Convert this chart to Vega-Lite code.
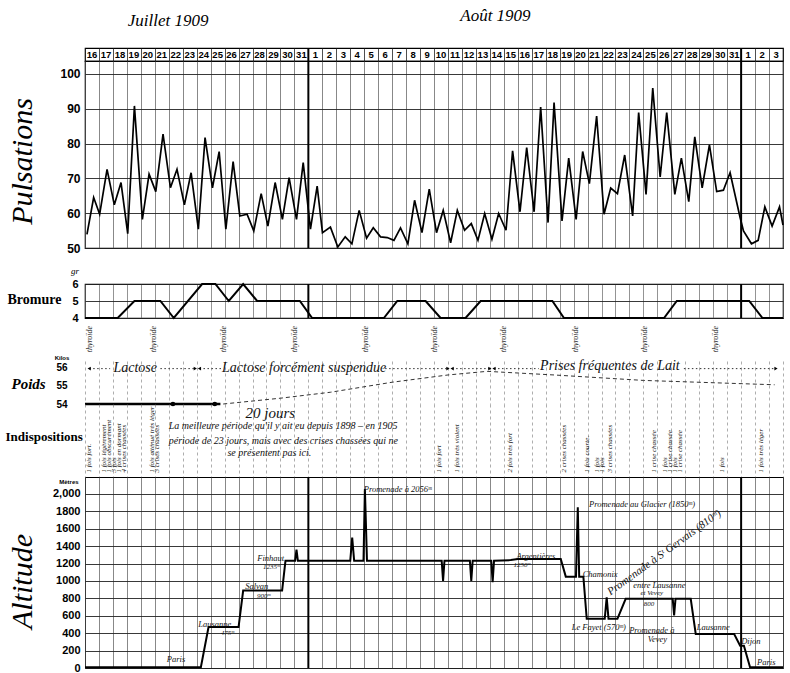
{
"$schema": "https://vega.github.io/schema/vega-lite/v6.json",
"padding": {"left": 5, "top": 6, "right": 2, "bottom": 4},
"background": "white",
"bounds": "flush",
"spacing": 0,
"config": {"view": {"stroke": null}, "axis": {"labelColor": "black", "titleColor": "black", "labelOverlap": false}},
"vconcat": [
{
 "width": 698, "height": 13,
 "view": {"stroke": "black", "strokeWidth": 1.2},
 "layer": [
  {"data": {"values": [
   {"t":0,"label":"16"},{"t":1,"label":"17"},{"t":2,"label":"18"},{"t":3,"label":"19"},{"t":4,"label":"20"},{"t":5,"label":"21"},{"t":6,"label":"22"},{"t":7,"label":"23"},{"t":8,"label":"24"},{"t":9,"label":"25"},{"t":10,"label":"26"},{"t":11,"label":"27"},{"t":12,"label":"28"},{"t":13,"label":"29"},{"t":14,"label":"30"},{"t":15,"label":"31"},
   {"t":16,"label":"1"},{"t":17,"label":"2"},{"t":18,"label":"3"},{"t":19,"label":"4"},{"t":20,"label":"5"},{"t":21,"label":"6"},{"t":22,"label":"7"},{"t":23,"label":"8"},{"t":24,"label":"9"},{"t":25,"label":"10"},{"t":26,"label":"11"},{"t":27,"label":"12"},{"t":28,"label":"13"},{"t":29,"label":"14"},{"t":30,"label":"15"},{"t":31,"label":"16"},{"t":32,"label":"17"},{"t":33,"label":"18"},{"t":34,"label":"19"},{"t":35,"label":"20"},{"t":36,"label":"21"},{"t":37,"label":"22"},{"t":38,"label":"23"},{"t":39,"label":"24"},{"t":40,"label":"25"},{"t":41,"label":"26"},{"t":42,"label":"27"},{"t":43,"label":"28"},{"t":44,"label":"29"},{"t":45,"label":"30"},{"t":46,"label":"31"},
   {"t":47,"label":"1"},{"t":48,"label":"2"},{"t":49,"label":"3"}]},
   "mark": {"type": "text", "dx": 7, "font": "Liberation Sans", "fontSize": 9.5, "fontWeight": "bold", "color": "black", "baseline": "middle"},
   "encoding": {
    "x": {"field": "t", "type": "quantitative", "scale": {"domain": [0, 50], "nice": false, "zero": false},
          "axis": {"orient": "bottom", "values": [0,1,2,3,4,5,6,7,8,9,10,11,12,13,14,15,16,17,18,19,20,21,22,23,24,25,26,27,28,29,30,31,32,33,34,35,36,37,38,39,40,41,42,43,44,45,46,47,48,49,50], "tickCount": 100, "grid": true, "gridColor": "#222", "gridWidth": 0.8, "labels": false, "ticks": false, "domain": false, "title": null}},
    "y": {"datum": 0.5, "type": "quantitative", "scale": {"domain": [0, 1], "nice": false, "zero": false}, "axis": null},
    "text": {"field": "label"}
   }},
  {"data": {"values": [{"t": 5.95, "y": 3.1, "label": "Juillet 1909"}, {"t": 29.4, "y": 3.45, "label": "Août 1909"}]},
   "mark": {"type": "text", "font": "Liberation Serif", "fontStyle": "italic", "fontSize": 17, "color": "black", "baseline": "middle"},
   "encoding": {"x": {"field": "t", "type": "quantitative"}, "y": {"field": "y", "type": "quantitative"}, "text": {"field": "label"}}},
  {"data": {"values": [{"t": 16}, {"t": 47}]},
   "mark": {"type": "rule", "color": "black", "strokeWidth": 2},
   "encoding": {"x": {"field": "t", "type": "quantitative"}}}
 ]
},
{
 "width": 698, "height": 187,
 "view": {"stroke": "black", "strokeWidth": 1.2},
 "layer": [
  {"data": {"values": [
   {"t":0.14,"v":53.9},{"t":0.62,"v":64.5},{"t":1.05,"v":59.7},{"t":1.58,"v":72.6},{"t":2.10,"v":62.4},{"t":2.58,"v":68.8},{"t":3.06,"v":54.1},{"t":3.54,"v":90.8},{"t":4.11,"v":58.2},{"t":4.59,"v":71.2},{"t":5.07,"v":66.2},{"t":5.59,"v":82.7},{"t":6.12,"v":67.3},{"t":6.59,"v":72.6},{"t":7.12,"v":62.4},{"t":7.60,"v":71.6},{"t":8.12,"v":55.4},{"t":8.60,"v":81.7},{"t":9.13,"v":67.3},{"t":9.61,"v":77.7},{"t":10.09,"v":55.4},{"t":10.61,"v":74.8},{"t":11.09,"v":59.2},{"t":11.61,"v":59.7},{"t":12.09,"v":54.9},{"t":12.62,"v":65.6},{"t":13.10,"v":56.3},{"t":13.62,"v":68.8},{"t":14.14,"v":58.2},{"t":14.62,"v":70.2},{"t":15.15,"v":58.2},{"t":15.63,"v":74.5},
   {"t":16.15,"v":55.4},{"t":16.63,"v":67.8},{"t":17.01,"v":54.4},{"t":17.58,"v":56.0},{"t":18.11,"v":50.3},{"t":18.64,"v":53.2},{"t":19.12,"v":51.2},{"t":19.64,"v":60.8},{"t":20.17,"v":52.8},{"t":20.65,"v":55.8},{"t":21.17,"v":53.2},{"t":21.65,"v":53.0},{"t":22.13,"v":52.2},{"t":22.60,"v":55.8},{"t":23.13,"v":51.2},{"t":23.61,"v":63.7},{"t":24.14,"v":54.4},{"t":24.66,"v":66.9},{"t":25.18,"v":54.4},{"t":25.66,"v":60.8},{"t":26.19,"v":51.5},{"t":26.67,"v":60.8},{"t":27.19,"v":55.1},{"t":27.67,"v":57.0},{"t":28.15,"v":52.2},{"t":28.63,"v":59.9},{"t":29.15,"v":52.5},{"t":29.63,"v":59.9},{"t":30.16,"v":55.1},
   {"t":30.63,"v":77.9},{"t":31.16,"v":60.4},{"t":31.64,"v":78.8},{"t":32.17,"v":60.4},{"t":32.64,"v":90.5},{"t":33.17,"v":57.3},{"t":33.60,"v":91.8},{"t":34.17,"v":57.8},{"t":34.65,"v":75.8},{"t":35.18,"v":58.2},{"t":35.65,"v":77.7},{"t":36.13,"v":68.5},{"t":36.65,"v":87.9},{"t":37.18,"v":59.7},{"t":37.66,"v":67.2},{"t":38.14,"v":65.6},{"t":38.66,"v":76.7},{"t":39.23,"v":59.2},{"t":39.66,"v":88.9},{"t":40.19,"v":65.4},{"t":40.67,"v":95.9},{"t":41.20,"v":70.4},{"t":41.67,"v":88.9},{"t":42.25,"v":65.4},{"t":42.72,"v":75.8},{"t":43.25,"v":63.3},{"t":43.68,"v":81.9},{"t":44.21,"v":67.3},{"t":44.73,"v":79.6},{"t":45.25,"v":66.2},{"t":45.73,"v":66.6},{"t":46.21,"v":71.6},{"t":46.93,"v":58.7},
   {"t":47.17,"v":54.9},{"t":47.74,"v":51.2},{"t":48.22,"v":52.2},{"t":48.70,"v":61.8},{"t":49.22,"v":56.3},{"t":49.75,"v":61.8},{"t":50.0,"v":56.6}]},
   "mark": {"type": "line", "color": "black", "strokeWidth": 1.7},
   "encoding": {
    "x": {"field": "t", "type": "quantitative", "scale": {"domain": [0, 50], "nice": false, "zero": false},
          "axis": {"orient": "bottom", "values": [0,1,2,3,4,5,6,7,8,9,10,11,12,13,14,15,16,17,18,19,20,21,22,23,24,25,26,27,28,29,30,31,32,33,34,35,36,37,38,39,40,41,42,43,44,45,46,47,48,49,50], "tickCount": 100, "grid": true, "gridColor": "#555", "gridWidth": 0.7, "labels": false, "ticks": false, "domain": false, "title": null}},
    "y": {"field": "v", "type": "quantitative", "scale": {"domain": [50, 103.7], "nice": false, "zero": false},
          "axis": {"values": [50, 60, 70, 80, 90, 100], "tickCount": 100, "labelExpr": "'' + datum.value", "grid": true, "gridColor": "#222", "gridWidth": 0.9, "ticks": false, "domain": false,
                   "labelFont": "Liberation Sans", "labelFontSize": 12, "labelFontWeight": "bold", "labelPadding": 5,
                   "title": "Pulsations", "titleAngle": -90, "titleX": -63, "titleY": 100, "titleAlign": "center", "titleBaseline": "middle",
                   "titleFont": "Liberation Serif", "titleFontStyle": "italic", "titleFontWeight": "normal", "titleFontSize": 30}}
   }},
  {"data": {"values": [{"t": 16}, {"t": 47}]},
   "mark": {"type": "rule", "color": "black", "strokeWidth": 2},
   "encoding": {"x": {"field": "t", "type": "quantitative"}}}
 ]
},
{
 "width": 698, "height": 36,
 "data": {"values": [{"t": -0.72, "y": 0.37, "label": "gr"}]},
 "mark": {"type": "text", "font": "Liberation Serif", "fontStyle": "italic", "fontSize": 9, "color": "black"},
 "encoding": {
  "x": {"field": "t", "type": "quantitative", "scale": {"domain": [0, 50], "nice": false, "zero": false}, "axis": null},
  "y": {"field": "y", "type": "quantitative", "scale": {"domain": [0, 1], "nice": false, "zero": false}, "axis": null},
  "text": {"field": "label"}
 }
},
{
 "width": 698, "height": 34,
 "view": {"stroke": "black", "strokeWidth": 1.2},
 "layer": [
  {"data": {"values": [
   {"t":0,"b":4},{"t":2.34,"b":4},{"t":3.54,"b":5},{"t":5.40,"b":5},{"t":6.36,"b":4},{"t":8.39,"b":6},{"t":9.34,"b":6},{"t":10.30,"b":5},{"t":11.33,"b":6},{"t":12.33,"b":5},{"t":15.39,"b":5},{"t":16.27,"b":4},{"t":21.41,"b":4},{"t":22.37,"b":5},{"t":24.40,"b":5},{"t":25.47,"b":4},{"t":27.26,"b":4},{"t":28.34,"b":5},{"t":33.48,"b":5},{"t":34.31,"b":4},{"t":41.48,"b":4},{"t":42.39,"b":5},{"t":47.58,"b":5},{"t":48.53,"b":4},{"t":50,"b":4}]},
   "mark": {"type": "line", "color": "black", "strokeWidth": 2},
   "encoding": {
    "x": {"field": "t", "type": "quantitative", "scale": {"domain": [0, 50], "nice": false, "zero": false},
          "axis": {"orient": "bottom", "values": [0,1,2,3,4,5,6,7,8,9,10,11,12,13,14,15,16,17,18,19,20,21,22,23,24,25,26,27,28,29,30,31,32,33,34,35,36,37,38,39,40,41,42,43,44,45,46,47,48,49,50], "tickCount": 100, "grid": true, "gridColor": "#666", "gridWidth": 0.7, "labels": false, "ticks": false, "domain": false, "title": null}},
    "y": {"field": "b", "type": "quantitative", "scale": {"domain": [4, 6], "nice": false, "zero": false},
          "axis": {"values": [4, 5, 6], "tickCount": 10, "labelExpr": "'' + datum.value", "grid": true, "gridColor": "#222", "gridWidth": 0.9, "ticks": false, "domain": false,
                   "labelFont": "Liberation Sans", "labelFontSize": 11, "labelFontWeight": "bold", "labelPadding": 7,
                   "title": "Bromure", "titleAngle": 0, "titleX": -78, "titleY": 15, "titleAlign": "left", "titleBaseline": "middle",
                   "titleFont": "Liberation Serif", "titleFontWeight": "bold", "titleFontSize": 14}}
   }},
  {"data": {"values": [{"t": 16}, {"t": 47}]},
   "mark": {"type": "rule", "color": "black", "strokeWidth": 2},
   "encoding": {"x": {"field": "t", "type": "quantitative"}}}
 ]
},
{
 "width": 698, "height": 43,
 "data": {"values": [{"t":0.38,"label":"thyroïde"},{"t":4.92,"label":"thyroïde"},{"t":9.94,"label":"thyroïde"},{"t":15.03,"label":"thyroïde"},{"t":20.1,"label":"thyroïde"},{"t":25.07,"label":"thyroïde"},{"t":30.0,"label":"thyroïde"},{"t":35.15,"label":"thyroïde"},{"t":40.1,"label":"thyroïde"},{"t":45.2,"label":"thyroïde"}]},
 "mark": {"type": "text", "angle": 270, "font": "Liberation Serif", "fontStyle": "italic", "fontSize": 8, "color": "#222", "align": "center", "baseline": "middle"},
 "encoding": {
  "x": {"field": "t", "type": "quantitative", "scale": {"domain": [0, 50], "nice": false, "zero": false}, "axis": null},
  "y": {"datum": 0.51, "type": "quantitative", "scale": {"domain": [0, 1], "nice": false, "zero": false}, "axis": null},
  "text": {"field": "label"}
 }
},
{
 "width": 698, "height": 43,
 "layer": [
  {"data": {"values": [{"t": 0, "w": 54.0}, {"t": 6.3, "w": 54.0}, {"t": 9.3, "w": 54.0}, {"t": 9.7, "w": 54.0}]},
   "mark": {"type": "line", "color": "black", "strokeWidth": 2.5},
   "encoding": {
    "x": {"field": "t", "type": "quantitative", "scale": {"domain": [0, 50], "nice": false, "zero": false},
          "axis": {"orient": "bottom", "values": [0,1,2,3,4,5,6,7,8,9,10,11,12,13,14,15,16,17,18,19,20,21,22,23,24,25,26,27,28,29,30,31,32,33,34,35,36,37,38,39,40,41,42,43,44,45,46,47,48,49,50], "tickCount": 100, "grid": true, "gridColor": "#777", "gridWidth": 0.6, "gridDash": [3, 3], "labels": false, "ticks": false, "domain": false, "title": null}},
    "y": {"field": "w", "type": "quantitative", "scale": {"domain": [54, 56.37], "nice": false, "zero": false},
          "axis": {"values": [54, 55, 56], "tickCount": 100, "labelExpr": "'' + datum.value", "grid": false, "ticks": false, "domain": false,
                   "labelFont": "Liberation Sans", "labelFontSize": 10, "labelFontWeight": "bold", "labelPadding": 18,
                   "title": "Poids", "titleAngle": 0, "titleX": -74, "titleY": 22, "titleAlign": "left", "titleBaseline": "middle",
                   "titleFont": "Liberation Serif", "titleFontStyle": "italic", "titleFontWeight": "bold", "titleFontSize": 15}}
   }},
  {"data": {"values": [{"t": 6.3, "w": 54.0}, {"t": 9.3, "w": 54.0}]},
   "mark": {"type": "point", "filled": true, "color": "black", "size": 22, "opacity": 1},
   "encoding": {"x": {"field": "t", "type": "quantitative"}, "y": {"field": "w", "type": "quantitative"}}},
  {"data": {"values": [{"t": 9.9, "w": 54.0}, {"t": 14.0, "w": 54.32}, {"t": 17.6, "w": 54.65}, {"t": 22.0, "w": 55.2}, {"t": 26.0, "w": 55.6}, {"t": 28.8, "w": 55.8}, {"t": 33.6, "w": 55.6}, {"t": 40.0, "w": 55.3}, {"t": 49.4, "w": 55.06}]},
   "mark": {"type": "line", "color": "#333", "strokeWidth": 1, "strokeDash": [4, 3]},
   "encoding": {"x": {"field": "t", "type": "quantitative"}, "y": {"field": "w", "type": "quantitative"}}},
  {"data": {"values": [{"t": 0.3, "t2": 1.8}, {"t": 5.4, "t2": 7.9}, {"t": 8.2, "t2": 9.9}, {"t": 21.5, "t2": 26.0}, {"t": 26.3, "t2": 29.0}, {"t": 29.3, "t2": 32.5}, {"t": 42.9, "t2": 49.5}]},
   "mark": {"type": "rule", "color": "#333", "strokeWidth": 1, "strokeDash": [1.5, 2.5]},
   "encoding": {"x": {"field": "t", "type": "quantitative"}, "x2": {"field": "t2"}, "y": {"datum": 55.95, "type": "quantitative"}}},
  {"data": {"values": [{"t": 0.3, "dir": "l"}, {"t": 7.9, "dir": "r"}, {"t": 8.2, "dir": "l"}, {"t": 26.0, "dir": "r"}, {"t": 26.3, "dir": "l"}, {"t": 29.0, "dir": "r"}, {"t": 29.3, "dir": "l"}, {"t": 49.5, "dir": "r"}]},
   "mark": {"type": "point", "filled": true, "color": "black", "size": 14, "opacity": 1},
   "encoding": {"x": {"field": "t", "type": "quantitative"}, "y": {"datum": 55.95, "type": "quantitative"},
                "shape": {"field": "dir", "type": "nominal", "scale": {"domain": ["l", "r"], "range": ["triangle-left", "triangle-right"]}, "legend": null}}},
  {"data": {"values": [{"t": 3.6, "w": 56.0, "label": "Lactose"}, {"t": 15.7, "w": 56.0, "label": "Lactose forcément suspendue"}, {"t": 37.6, "w": 56.1, "label": "Prises fréquentes de Lait"}]},
   "mark": {"type": "text", "font": "Liberation Serif", "fontStyle": "italic", "fontSize": 14, "color": "#111", "baseline": "middle"},
   "encoding": {"x": {"field": "t", "type": "quantitative"}, "y": {"field": "w", "type": "quantitative"}, "text": {"field": "label"}}},
  {"data": {"values": [{"t": -1.65, "w": 56.55, "label": "Kilos"}]},
   "mark": {"type": "text", "font": "Liberation Sans", "fontSize": 6, "fontWeight": "bold", "color": "black", "baseline": "middle"},
   "encoding": {"x": {"field": "t", "type": "quantitative"}, "y": {"field": "w", "type": "quantitative"}, "text": {"field": "label"}}},
  {"mark": {"type": "rule", "color": "black", "strokeWidth": 1.6},
   "encoding": {"y": {"datum": 54, "type": "quantitative"}}}
 ]
},
{
 "width": 698, "height": 73,
 "layer": [
  {"data": {"values": [
   {"t":0.29,"label":"1 fois fort."},{"t":1.34,"label":"1 fois légèrement"},{"t":1.70,"label":"1 fois obscurément"},{"t":2.08,"label":"3 fois"},{"t":2.44,"label":"1 fois en dormant"},{"t":2.77,"label":"4 crises chassées"},{"t":4.80,"label":"1 fois atténué très léger"},{"t":5.16,"label":"3 crises chassées"},
   {"t":25.36,"label":"1 fois fort"},{"t":26.67,"label":"1 fois très violent"},{"t":30.47,"label":"2 fois très fort"},{"t":34.3,"label":"2 crises chassées"},{"t":35.99,"label":"1 fois courte."},{"t":36.7,"label":"1 fois"},{"t":37.06,"label":"1 fois"},{"t":37.63,"label":"3 crises chassées"},
   {"t":40.77,"label":"1 crise chassée"},{"t":41.58,"label":"1 fois"},{"t":41.94,"label":"1 crise chassée"},{"t":42.29,"label":"1 fois"},{"t":42.65,"label":"1 crise chassée"},{"t":45.66,"label":"1 fois"},{"t":48.39,"label":"1 fois très léger"}]},
   "mark": {"type": "text", "angle": 270, "font": "Liberation Serif", "fontStyle": "italic", "fontSize": 7, "color": "#111", "align": "left", "baseline": "middle"},
   "encoding": {
    "x": {"field": "t", "type": "quantitative", "scale": {"domain": [0, 50], "nice": false, "zero": false},
          "axis": {"orient": "bottom", "values": [0,1,2,3,4,5,6,7,8,9,10,11,12,13,14,15,16,17,18,19,20,21,22,23,24,25,26,27,28,29,30,31,32,33,34,35,36,37,38,39,40,41,42,43,44,45,46,47,48,49,50], "tickCount": 100, "grid": true, "gridColor": "#777", "gridWidth": 0.6, "gridDash": [3, 3], "labels": false, "ticks": false, "domain": false, "title": null}},
    "y": {"datum": 0.06, "type": "quantitative", "scale": {"domain": [0, 1], "nice": false, "zero": false},
          "axis": {"values": [], "grid": false, "ticks": false, "domain": false, "labels": false,
                   "title": "Indispositions", "titleAngle": 0, "titleX": -80, "titleY": 32, "titleAlign": "left", "titleBaseline": "middle",
                   "titleFont": "Liberation Serif", "titleFontWeight": "bold", "titleFontSize": 13}},
    "text": {"field": "label"}
   }},
  {"data": {"values": [{"t": 11.5, "y": 0.88, "label": "20 jours"}]},
   "mark": {"type": "text", "font": "Liberation Serif", "fontStyle": "italic", "fontSize": 15, "color": "#111", "align": "left", "baseline": "middle"},
   "encoding": {"x": {"field": "t", "type": "quantitative"}, "y": {"field": "y", "type": "quantitative"}, "text": {"field": "label"}}},
  {"data": {"values": [
    {"t": 6.0, "y": 0.70, "label": "La meilleure période qu'il y ait eu depuis 1898 – en 1905"},
    {"t": 6.0, "y": 0.49, "label": "période de 23 jours, mais avec des crises chassées qui ne"},
    {"t": 10.2, "y": 0.33, "label": "se présentent pas ici."}]},
   "mark": {"type": "text", "font": "Liberation Serif", "fontStyle": "italic", "fontSize": 10, "color": "#111", "align": "left", "baseline": "middle"},
   "encoding": {"x": {"field": "t", "type": "quantitative"}, "y": {"field": "y", "type": "quantitative"}, "text": {"field": "label"}}},
  {"mark": {"type": "rule", "color": "black", "strokeWidth": 1.6},
   "encoding": {"y": {"datum": 0, "type": "quantitative"}}}
 ]
},
{
 "width": 698, "height": 191,
 "view": {"stroke": "black", "strokeWidth": 1},
 "layer": [
  {"data": {"values": [
   {"t":0,"alt":10},{"t":8.30,"alt":10},{"t":8.85,"alt":470},{"t":11.00,"alt":470},{"t":11.33,"alt":890},{"t":14.12,"alt":890},{"t":14.36,"alt":1232},{"t":15.05,"alt":1232},{"t":15.15,"alt":1360},{"t":15.25,"alt":1232},{"t":19.0,"alt":1232},{"t":19.14,"alt":1500},{"t":19.28,"alt":1232},{"t":19.95,"alt":1232},{"t":20.05,"alt":2057},{"t":20.2,"alt":1232},
   {"t":25.55,"alt":1232},{"t":25.65,"alt":1000},{"t":25.75,"alt":1232},{"t":27.57,"alt":1232},{"t":27.67,"alt":1000},{"t":27.77,"alt":1232},{"t":29.1,"alt":1232},{"t":29.2,"alt":985},{"t":29.3,"alt":1232},{"t":30.5,"alt":1240},{"t":31.0,"alt":1253},{"t":34.08,"alt":1253},{"t":34.44,"alt":1050},{"t":35.17,"alt":1050},{"t":35.3,"alt":1846},{"t":35.4,"alt":1050},{"t":35.7,"alt":1050},{"t":35.94,"alt":565},
   {"t":37.23,"alt":565},{"t":37.37,"alt":812},{"t":37.5,"alt":565},{"t":38.14,"alt":565},{"t":38.73,"alt":795},{"t":42.10,"alt":795},{"t":42.20,"alt":605},{"t":42.30,"alt":795},{"t":43.39,"alt":795},{"t":43.75,"alt":390},{"t":46.5,"alt":390},{"t":46.93,"alt":256},{"t":47.2,"alt":256},{"t":47.64,"alt":8},{"t":50,"alt":8}]},
   "mark": {"type": "line", "color": "black", "strokeWidth": 2},
   "encoding": {
    "x": {"field": "t", "type": "quantitative", "scale": {"domain": [0, 50], "nice": false, "zero": false},
          "axis": {"orient": "bottom", "values": [0,1,2,3,4,5,6,7,8,9,10,11,12,13,14,15,16,17,18,19,20,21,22,23,24,25,26,27,28,29,30,31,32,33,34,35,36,37,38,39,40,41,42,43,44,45,46,47,48,49,50], "tickCount": 100, "grid": true, "gridColor": "#555", "gridWidth": 0.7, "labels": false, "ticks": false, "domain": false, "title": null}},
    "y": {"field": "alt", "type": "quantitative", "scale": {"domain": [0, 2195], "nice": false, "zero": false},
          "axis": {"values": [0, 200, 400, 600, 800, 1000, 1200, 1400, 1600, 1800, 2000], "tickCount": 100, "labelExpr": "datum.value == 2000 ? '2,000' : '' + datum.value",
                   "grid": true, "gridColor": "#222", "gridWidth": 0.9, "ticks": false, "domain": false,
                   "labelFont": "Liberation Sans", "labelFontSize": 11, "labelFontWeight": "bold", "labelPadding": 5,
                   "title": "Altitude", "titleAngle": -90, "titleX": -63, "titleY": 104, "titleAlign": "center", "titleBaseline": "middle",
                   "titleFont": "Liberation Serif", "titleFontStyle": "italic", "titleFontWeight": "normal", "titleFontSize": 30}}
   }},
  {"data": {"values": [{"t": 16}, {"t": 47}]},
   "mark": {"type": "rule", "color": "black", "strokeWidth": 2},
   "encoding": {"x": {"field": "t", "type": "quantitative"}}},
  {"data": {"values": [
    {"t":6.52,"alt":103,"label":"Paris"},{"t":9.3,"alt":510,"label":"Lausanne"},
    {"t":12.3,"alt":948,"label":"Salvan"},{"t":13.3,"alt":1262,"label":"Finhaut"},
    {"t":22.4,"alt":2057,"label":"Promenade à 2056ᵐ"},{"t":32.3,"alt":1290,"label":"Argentières"},
    {"t":36.9,"alt":1084,"label":"Chamonix"},{"t":39.9,"alt":1882,"label":"Promenade au Glacier (1850ᵐ)"},
    {"t":41.15,"alt":950,"label":"entre Lausanne"},
    {"t":36.8,"alt":475,"label":"Le Fayet (570ᵐ)"},{"t":40.6,"alt":433,"label":"Promenade à"},{"t":41.0,"alt":330,"label":"Vevey"},
    {"t":45.0,"alt":471,"label":"Lausanne"},{"t":47.7,"alt":310,"label":"Dijon"},{"t":48.8,"alt":72,"label":"Paris"}]},
   "mark": {"type": "text", "font": "Liberation Serif", "fontStyle": "italic", "fontSize": 8.5, "color": "#111", "baseline": "middle"},
   "encoding": {"x": {"field": "t", "type": "quantitative"}, "y": {"field": "alt", "type": "quantitative"}, "text": {"field": "label"}}},
  {"data": {"values": [
    {"t":10.2,"alt":400,"label":"475ᵐ"},{"t":12.8,"alt":830,"label":"900ᵐ"},{"t":13.35,"alt":1160,"label":"1235ᵐ"},
    {"t":31.3,"alt":1180,"label":"1250ᵐ"},{"t":40.6,"alt":860,"label":"et Vevey"},{"t":40.4,"alt":730,"label":"800"}]},
   "mark": {"type": "text", "font": "Liberation Serif", "fontStyle": "italic", "fontSize": 7, "color": "#111", "baseline": "middle"},
   "encoding": {"x": {"field": "t", "type": "quantitative"}, "y": {"field": "alt", "type": "quantitative"}, "text": {"field": "label"}}},
  {"data": {"values": [{"t": 41.5, "alt": 1325, "label": "Promenade à Sᵗ Gervais (810ᵐ)"}]},
   "mark": {"type": "text", "angle": 324, "font": "Liberation Serif", "fontStyle": "italic", "fontSize": 11, "color": "#111", "baseline": "middle"},
   "encoding": {"x": {"field": "t", "type": "quantitative"}, "y": {"field": "alt", "type": "quantitative"}, "text": {"field": "label"}}},
  {"data": {"values": [{"t": -1.15, "alt": 2134, "label": "Mètres"}]},
   "mark": {"type": "text", "font": "Liberation Sans", "fontSize": 6, "fontWeight": "bold", "color": "black", "baseline": "middle"},
   "encoding": {"x": {"field": "t", "type": "quantitative"}, "y": {"field": "alt", "type": "quantitative"}, "text": {"field": "label"}}}
 ]
}
]
}
